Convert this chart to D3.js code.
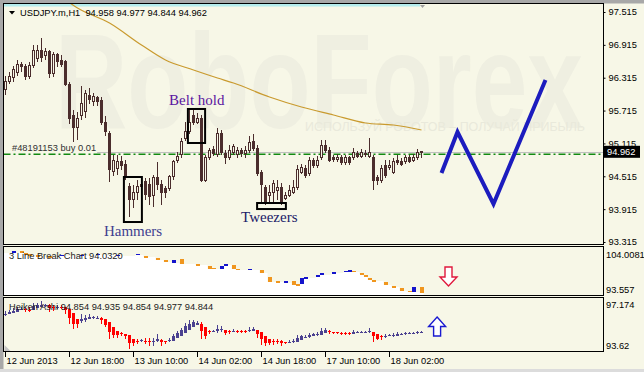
<!DOCTYPE html>
<html>
<head>
<meta charset="utf-8">
<script src="https://cdn.jsdelivr.net/npm/d3@7"></script>
<style>
  body { margin: 0; background: #f7f7e7; }
  svg { display: block; }
  text { font-family: "Liberation Sans", Arial, sans-serif; }
</style>
</head>
<body>
<div id="chart"></div>
<script>
// USDJPY.m H1 candles, index 0 = 12 Jun 02:00
const opens = [
  96.091, 96.237, 96.310, 96.419, 96.565, 96.511, 96.346, 96.529, 96.675, 96.821,
  96.712, 96.785, 96.383, 96.730, 96.638, 96.602, 96.200, 95.616, 95.397, 95.634,
  95.689, 95.999, 95.872, 95.945, 95.908, 95.506, 95.305, 94.611, 94.666, 94.794,
  94.739, 94.337, 94.082, 94.210, 94.337, 94.411, 94.374, 94.173, 94.484, 94.374,
  94.283, 94.301, 94.502, 94.812, 94.904, 95.196, 95.324, 95.634, 95.506, 95.579,
  94.447, 94.867, 95.013, 94.904, 95.305, 94.940, 94.849, 94.958, 94.904, 94.995,
  94.922, 94.995, 95.159, 95.031, 94.593, 94.319, 94.173, 94.228, 94.264, 94.319,
  94.118, 94.173, 94.228, 94.319, 94.593, 94.666, 94.575, 94.812, 94.721, 94.849,
  95.086, 94.995, 94.867, 94.830, 94.867, 94.758, 94.849, 94.849, 94.940, 94.885,
  94.940, 94.885, 94.867, 94.484, 94.447, 94.721, 94.684, 94.593, 94.812, 94.776,
  94.776, 94.867, 94.812, 94.867, 94.958
];
const highs = [
  96.346, 96.419, 96.529, 96.638, 96.602, 96.565, 96.602, 96.912, 96.912, 97.040,
  96.858, 96.821, 96.785, 96.766, 96.730, 96.638, 96.237, 95.725, 95.689, 96.164,
  96.091, 96.127, 96.036, 95.981, 95.963, 95.616, 95.342, 94.904, 94.904, 94.885,
  94.812, 94.392, 94.356, 94.447, 94.429, 94.484, 94.484, 94.538, 94.776, 94.447,
  94.337, 94.538, 94.812, 94.958, 95.214, 95.506, 95.725, 95.725, 95.671, 95.634,
  94.904, 95.031, 95.068, 95.397, 95.360, 94.995, 95.086, 95.105, 95.050, 95.031,
  95.068, 95.251, 95.287, 95.086, 94.630, 94.356, 94.356, 94.447, 94.447, 94.392,
  94.228, 94.356, 94.447, 94.721, 94.739, 94.721, 94.867, 94.849, 94.885, 95.178,
  95.178, 95.050, 94.904, 94.922, 94.904, 94.904, 94.885, 95.031, 94.977, 95.013,
  94.995, 95.214, 94.904, 94.538, 94.721, 94.812, 94.812, 94.849, 94.904, 94.849,
  94.904, 94.904, 94.922, 95.013, 94.977
];
const lows = [
  95.999, 96.200, 96.237, 96.346, 96.419, 96.273, 96.292, 96.492, 96.602, 96.602,
  96.638, 96.310, 96.328, 96.511, 96.511, 96.164, 95.470, 95.141, 95.178, 95.543,
  95.579, 95.835, 95.798, 95.798, 95.451, 95.251, 94.411, 94.520, 94.538, 94.630,
  94.447, 93.771, 93.936, 94.082, 94.264, 94.082, 93.990, 93.954, 94.264, 93.990,
  94.118, 94.246, 94.447, 94.758, 94.849, 95.159, 95.287, 95.451, 95.470, 94.411,
  94.411, 94.812, 94.885, 94.867, 94.904, 94.739, 94.812, 94.904, 94.849, 94.867,
  94.849, 94.940, 94.977, 94.520, 94.045, 93.990, 94.027, 94.009, 94.082, 93.990,
  94.082, 94.137, 94.191, 94.264, 94.557, 94.484, 94.520, 94.666, 94.666, 94.812,
  94.940, 94.776, 94.776, 94.776, 94.721, 94.721, 94.721, 94.812, 94.849, 94.849,
  94.867, 94.849, 94.264, 94.356, 94.392, 94.484, 94.630, 94.557, 94.721, 94.703,
  94.739, 94.758, 94.776, 94.812, 94.844
];
const closes = [
  96.237, 96.346, 96.456, 96.565, 96.511, 96.346, 96.529, 96.803, 96.821, 96.693,
  96.785, 96.383, 96.730, 96.602, 96.565, 96.200, 95.579, 95.397, 95.579, 95.853,
  96.018, 95.926, 95.963, 95.872, 95.506, 95.324, 94.648, 94.812, 94.794, 94.721,
  94.520, 94.100, 94.210, 94.337, 94.374, 94.191, 94.155, 94.484, 94.356, 94.210,
  94.210, 94.502, 94.776, 94.885, 95.159, 95.324, 95.506, 95.506, 95.579, 94.447,
  94.867, 94.977, 94.940, 95.305, 94.958, 94.849, 94.995, 95.050, 94.995, 94.922,
  94.995, 95.141, 95.031, 94.575, 94.356, 94.045, 94.228, 94.392, 94.319, 94.045,
  94.173, 94.264, 94.319, 94.630, 94.684, 94.538, 94.812, 94.721, 94.812, 95.086,
  94.995, 94.812, 94.830, 94.867, 94.758, 94.867, 94.758, 94.958, 94.885, 94.958,
  94.904, 94.958, 94.447, 94.429, 94.666, 94.538, 94.721, 94.776, 94.758, 94.739,
  94.849, 94.794, 94.867, 94.958, 94.962
];

// price axis and time axis
const priceTicks = [97.515, 96.915, 96.315, 95.715, 95.115, 94.515, 93.915, 93.315];
const timeIdx = [0, 16, 32, 48, 64, 80, 96];
const timeLabels = ["12 Jun 2013", "12 Jun 18:00", "13 Jun 10:00", "14 Jun 02:00",
  "14 Jun 18:00", "17 Jun 10:00", "18 Jun 02:00"];

// moving average
const maIdx = [14, 18, 26, 34, 40, 47, 53, 57, 66, 74, 82, 90, 97, 104];
const maVal = [97.789, 97.588, 97.314, 96.912, 96.638, 96.456, 96.310, 96.218,
  95.963, 95.780, 95.634, 95.488, 95.451, 95.360];

// open order and forecast zigzag
const orderPrice = 94.917;
const forecastIdx = [109, 113, 122, 135];
const forecastVal = [94.575, 95.324, 94.009, 96.273];

// candle patterns
const patternNames = ["Belt hold", "Hammers", "Tweezers"];
const patternFrom = [45.6, 29.6, 62.9];
const patternTo = [49.9, 34.1, 70.1];
const patternHigh = [95.744, 94.502, 94.027];
const patternLow = [95.123, 93.680, 93.917];
const labelIdx = [40.9, 24.6, 58.9];
const labelVal = [95.817, 93.424, 93.680];

// 3 line break blocks
const lbIdx = [2, 4, 5, 6, 8, 11, 14, 19, 23, 28, 33, 35, 38, 40, 42, 44, 48, 51, 52, 54,
  55, 57, 58, 61, 64, 66, 68, 70, 72, 73, 74, 75, 78, 79, 82, 85, 86, 87, 89, 90,
  91, 92, 95, 97, 99, 101, 102, 104];
const lbTop = [103.341, 103.341, 102.896, 102.674, 102.452, 102.229, 102.452, 102.452, 102.674, 102.452,
  102.674, 102.229, 101.785, 101.340, 101.340, 101.562, 100.450, 100.006, 99.561, 100.006,
  100.450, 100.228, 99.339, 99.339, 99.116, 97.559, 96.670, 96.670, 96.670, 96.003,
  97.337, 97.559, 98.004, 98.449, 98.671, 98.894, 99.116, 98.894, 98.449, 98.004,
  97.337, 96.892, 96.448, 95.558, 95.114, 94.447, 95.336, 95.336];
const lbBot = [102.896, 103.119, 102.674, 102.229, 102.007, 102.007, 102.229, 102.229, 102.452, 102.229,
  102.452, 102.007, 101.340, 100.895, 100.673, 100.450, 100.228, 99.339, 99.339, 99.339,
  100.228, 99.339, 99.116, 99.116, 98.449, 96.448, 96.448, 96.225, 95.781, 95.781,
  96.003, 97.337, 97.559, 98.004, 98.449, 98.671, 98.894, 98.671, 98.227, 97.559,
  96.892, 96.670, 95.781, 95.336, 94.447, 94.224, 94.224, 94.002];
const lbUp = [1, 0, 0, 0, 0, 0, 1, 1, 1, 1, 1, 0, 0, 0, 1, 0, 0, 0, 0, 1,
  1, 0, 0, 1, 0, 0, 0, 1, 0, 0, 1, 1, 1, 1, 1, 1, 1, 0, 0, 0,
  0, 0, 0, 0, 0, 0, 1, 0];
const lbTicks = [104.0081, 93.557];
const haTicks = [97.174, 93.62];

// signal arrows
const sellArrow = { idx: 110.75, top: 99.783, tip: 95.558 };
const buyArrow = { idx: 107.9, tip: 95.944, base: 94.645 };

const W = 644, H = 372;
const L = 3.5, R = 603.5;
const BG = "#f7f7e7", DARK = "#4b2d2d";
const fmt = d3.format(".3f");

const svg = d3.select("#chart").append("svg")
  .attr("width", W).attr("height", H)
  .style("background", BG);

const x = d3.scaleLinear().domain([0, 104]).range([5.5, 421.5]);
const y = d3.scaleLinear().domain([93.315, 97.515]).range([242, 12]);
const yLB = d3.scaleLinear().domain([93.557, 104.0081]).range([295, 248]);
const yHA = d3.scaleLinear().domain([93.62, 97.174]).range([351, 299]);

// outer frame
svg.append("rect").attr("x", 0).attr("y", 0).attr("width", W).attr("height", 3.5).attr("fill", "#a8a8a8");
svg.append("rect").attr("x", 0).attr("y", 0).attr("width", 3.5).attr("height", H).attr("fill", "#a8a8a8");
svg.append("rect").attr("x", 0).attr("y", 369).attr("width", W).attr("height", 3).attr("fill", "#dcdcdc");

const defs = svg.append("defs");
function clip(id, top, bottom) {
  defs.append("clipPath").attr("id", id).append("rect")
    .attr("x", L + 0.5).attr("y", top + 0.5).attr("width", R - L - 1).attr("height", bottom - top - 1);
}
clip("cMain", 3.5, 244.5);
clip("cLB", 246.5, 295.5);
clip("cHA", 297.5, 351.5);

// ---------- main panel ----------
const main = svg.append("g").attr("clip-path", "url(#cMain)");

main.append("text")
  .attr("x", 55).attr("y", 128)
  .attr("textLength", 528).attr("lengthAdjust", "spacingAndGlyphs")
  .attr("font-size", 135).attr("font-weight", "bold")
  .attr("fill", "#efefe1")
  .text("RoboForex");
main.append("text")
  .attr("x", 305).attr("y", 131)
  .attr("textLength", 280).attr("lengthAdjust", "spacingAndGlyphs")
  .attr("font-size", 13).attr("fill", "#e9e9db")
  .text("ИСПОЛЬЗУЙ РОБОТОВ – ПОЛУЧАЙ ПРИБЫЛЬ");

main.append("rect").attr("x", 4).attr("y", 4).attr("width", 416).attr("height", 2.5).attr("fill", "#b4ecec");
main.append("path").attr("d", "M420,5 L425,5 L422.5,8 Z").attr("fill", "#a0a0a0");

// moving average
main.append("path")
  .datum(maIdx.map((d, i) => [d, maVal[i]]))
  .attr("fill", "none").attr("stroke", "#c99a2e").attr("stroke-width", 1.2)
  .attr("d", d3.line().x(d => x(d[0])).y(d => y(d[1])).curve(d3.curveMonotoneX));

// order line
main.append("line")
  .attr("x1", L).attr("x2", R).attr("y1", y(orderPrice)).attr("y2", y(orderPrice))
  .attr("stroke", "#128a12").attr("stroke-width", 1.3).attr("stroke-dasharray", "7,3,2,3");

const orderText = svg.append("text")
  .attr("x", 12).attr("y", y(orderPrice) - 3)
  .attr("font-size", 9.3).attr("fill", "#303030")
  .text("#48191153 buy 0.01");
const textEnd = 12 + orderText.node().getComputedTextLength();

const last = closes.length - 1;
main.append("line")
  .attr("x1", textEnd + 1).attr("x2", R)
  .attr("y1", Math.round(y(closes[last])) + 0.5).attr("y2", Math.round(y(closes[last])) + 0.5)
  .attr("stroke", "#c0c0c0");

// candles
const idx = d3.range(opens.length);
main.append("g").selectAll("line").data(idx).join("line")
  .attr("x1", i => x(i)).attr("x2", i => x(i))
  .attr("y1", i => y(highs[i])).attr("y2", i => y(lows[i]))
  .attr("stroke", DARK).attr("shape-rendering", "crispEdges");

main.append("g").selectAll("rect").data(idx).join("rect")
  .attr("shape-rendering", "crispEdges")
  .each(function (i) {
    const up = closes[i] >= opens[i];
    const top = y(Math.max(opens[i], closes[i]));
    const h = Math.max(1, y(Math.min(opens[i], closes[i])) - top);
    const r = d3.select(this);
    if (up) {
      r.attr("x", x(i) - 1).attr("width", 2).attr("y", top).attr("height", h)
        .attr("fill", BG).attr("stroke", DARK);
    } else {
      r.attr("x", x(i) - 1.5).attr("width", 3).attr("y", top - 0.5).attr("height", h + 1)
        .attr("fill", DARK);
    }
  });

// pattern boxes and labels
const patternColors = ["#5a14a0", "#40408f", "#202068"];
patternNames.forEach((name, k) => {
  main.append("rect")
    .attr("x", x(patternFrom[k])).attr("width", x(patternTo[k]) - x(patternFrom[k]))
    .attr("y", y(patternHigh[k])).attr("height", y(patternLow[k]) - y(patternHigh[k]))
    .attr("fill", "none").attr("stroke", "#000").attr("stroke-width", 2);
  main.append("text")
    .attr("x", x(labelIdx[k])).attr("y", y(labelVal[k]))
    .style("font-family", "'Liberation Serif', 'Times New Roman', serif")
    .attr("font-size", 15).attr("fill", patternColors[k])
    .text(name);
});

// forecast zigzag
main.append("path")
  .datum(forecastIdx.map((d, i) => [d, forecastVal[i]]))
  .attr("fill", "none").attr("stroke", "#1c1cbe").attr("stroke-width", 4)
  .attr("stroke-linejoin", "miter")
  .attr("d", d3.line().x(d => x(d[0])).y(d => y(d[1])));

// title
svg.append("path").attr("d", "M9,11 L15,11 L12,14.5 Z").attr("fill", "#000");
svg.append("text")
  .attr("x", 20).attr("y", 16).attr("font-size", 9.3).attr("fill", "#000")
  .style("white-space", "pre")
  .text(`USDJPY.m,H1  ${fmt(opens[last])} ${fmt(highs[last])} ${fmt(lows[last])} ${fmt(closes[last])}`);

// price axis
const yAxis = svg.append("g").attr("transform", `translate(${R},0)`)
  .call(d3.axisRight(y).tickValues(priceTicks).tickFormat(fmt).tickSize(2).tickPadding(3));
yAxis.select(".domain").remove();
yAxis.selectAll("line").attr("stroke", "#000");
yAxis.selectAll("text").attr("font-size", 9.3).attr("fill", "#000")
  .attr("font-family", "'Liberation Sans', Arial, sans-serif");

// current price tag
const yc = y(closes[last]);
svg.append("rect").attr("x", 604).attr("y", yc - 6).attr("width", 36).attr("height", 12).attr("fill", "#000");
svg.append("text").attr("x", 607).attr("y", yc + 3.5).attr("font-size", 9.3).attr("fill", "#fff")
  .text(fmt(closes[last]));

svg.append("rect").attr("x", L).attr("y", 3.5).attr("width", R - L).attr("height", 241)
  .attr("fill", "none").attr("stroke", "#000");

// ---------- 3 line break panel ----------
const lb = svg.append("g").attr("clip-path", "url(#cLB)");
const lbData = lbIdx.map((d, i) => ({ idx: d, top: lbTop[i], bot: lbBot[i], up: lbUp[i] }));
const areaPts = lbData.map((d, i) => ({ xv: i === 0 ? L : x(d.idx) - 2, yv: yLB(d.bot) }));
areaPts.push({ xv: x(lbData[lbData.length - 1].idx) + 2, yv: yLB(lbData[lbData.length - 1].bot) });
lb.append("path").datum(areaPts)
  .attr("fill", "#ffffff")
  .attr("d", d3.area().x(d => d.xv).y0(296).y1(d => d.yv).curve(d3.curveStepAfter));

lb.append("g").selectAll("rect").data(lbData).join("rect")
  .attr("x", d => x(d.idx) - 2).attr("width", 4)
  .attr("y", d => yLB(d.top)).attr("height", d => Math.max(1.5, yLB(d.bot) - yLB(d.top)))
  .attr("fill", d => d.up ? "#1414cc" : "#f0961e")
  .attr("shape-rendering", "crispEdges");

svg.append("text").attr("x", 9).attr("y", 259).attr("font-size", 9.3).attr("fill", "#222")
  .text("3 Line Break Chart 94.0320");

function downArrow(cx, yt, yb) {
  const ym = yt + (yb - yt) * 0.53;
  return `M${cx - 3.5},${yt} L${cx + 3.5},${yt} L${cx + 3.5},${ym} L${cx + 8.5},${ym} L${cx},${yb} L${cx - 8.5},${ym} L${cx - 3.5},${ym} Z`;
}
function upArrow(cx, yt, yb) {
  const ym = yt + (yb - yt) * 0.5;
  return `M${cx},${yt} L${cx + 8.5},${ym} L${cx + 3.5},${ym} L${cx + 3.5},${yb} L${cx - 3.5},${yb} L${cx - 3.5},${ym} L${cx - 8.5},${ym} Z`;
}
svg.append("path")
  .attr("d", downArrow(x(sellArrow.idx), yLB(sellArrow.top), yLB(sellArrow.tip)))
  .attr("fill", "#fff").attr("stroke", "#e0183c").attr("stroke-width", 1.4);

svg.append("rect").attr("x", L).attr("y", 246.5).attr("width", R - L).attr("height", 49)
  .attr("fill", "none").attr("stroke", "#000");
lbTicks.forEach((v, k) => {
  svg.append("text").attr("x", 606).attr("y", k === 0 ? yLB(v) + 10.3 : yLB(v) - 1.7)
    .attr("font-size", 9.3).attr("fill", "#000").text(v);
});

// ---------- Heiken Ashi panel ----------
const ha = [];
opens.forEach((o, i) => {
  const c = (o + highs[i] + lows[i] + closes[i]) / 4;
  const op = i === 0 ? (o + closes[i]) / 2 : (ha[i - 1].o + ha[i - 1].c) / 2;
  ha.push({ i, o: op, c, h: Math.max(highs[i], op, c), l: Math.min(lows[i], op, c) });
});
const haG = svg.append("g").attr("clip-path", "url(#cHA)");
const haColor = d => d.c >= d.o ? "#4b4190" : "#ff0000";
haG.append("g").selectAll("line").data(ha).join("line")
  .attr("x1", d => x(d.i)).attr("x2", d => x(d.i))
  .attr("y1", d => yHA(d.h)).attr("y2", d => yHA(d.l))
  .attr("stroke", haColor).attr("shape-rendering", "crispEdges");
haG.append("g").selectAll("rect").data(ha).join("rect")
  .attr("x", d => x(d.i) - 1.5).attr("width", 3)
  .attr("y", d => yHA(Math.max(d.o, d.c)))
  .attr("height", d => Math.max(1, Math.abs(yHA(d.o) - yHA(d.c))))
  .attr("fill", haColor).attr("shape-rendering", "crispEdges");

svg.append("text").attr("x", 9).attr("y", 310).attr("font-size", 9.3).attr("fill", "#222")
  .text("Heiken Ashi 94.854 94.935 94.854 94.977 94.844");
svg.append("path").attr("d", "M4.5,345 L4.5,351 L10.5,351 Z").attr("fill", "#c4c4c4");

svg.append("path")
  .attr("d", upArrow(x(buyArrow.idx), yHA(buyArrow.tip), yHA(buyArrow.base)))
  .attr("fill", "#fff").attr("stroke", "#1a1ad0").attr("stroke-width", 1.4);

svg.append("rect").attr("x", L).attr("y", 297.5).attr("width", R - L).attr("height", 54)
  .attr("fill", "none").attr("stroke", "#000");
haTicks.forEach((v, k) => {
  svg.append("text").attr("x", 606).attr("y", k === 0 ? yHA(v) + 9.3 : yHA(v) - 1.7)
    .attr("font-size", 9.3).attr("fill", "#000").text(v);
});

// ---------- time axis ----------
const xAxis = svg.append("g").attr("transform", "translate(-0.5,352)")
  .call(d3.axisBottom(x).tickValues(timeIdx).tickFormat((d, i) => timeLabels[i]).tickSize(5));
xAxis.select(".domain").remove();
xAxis.selectAll("line").attr("stroke", "#000");
xAxis.selectAll("text")
  .attr("text-anchor", "start").attr("x", 1).attr("y", 12).attr("dy", 0)
  .attr("font-size", 9.3).attr("fill", "#000")
  .attr("font-family", "'Liberation Sans', Arial, sans-serif");
</script>
</body>
</html>
